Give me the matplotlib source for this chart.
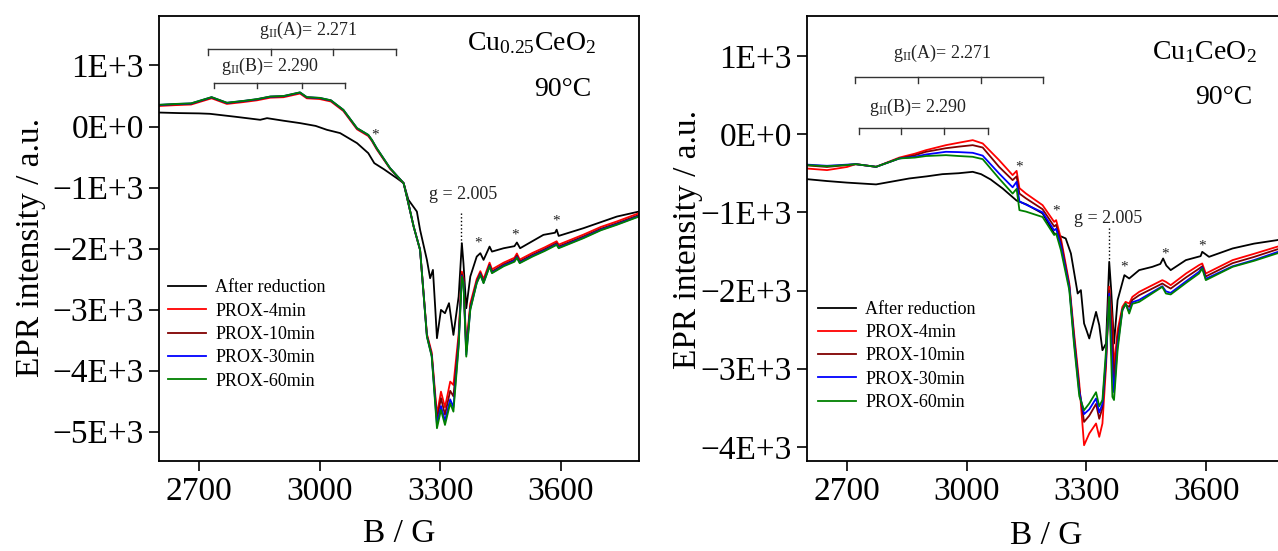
import matplotlib
matplotlib.use("Agg")
import matplotlib.pyplot as plt
import matplotlib.transforms as mtransforms

plt.rcParams['font.family'] = ['Liberation Serif', 'DejaVu Serif']
plt.rcParams['mathtext.fontset'] = 'custom'
plt.rcParams['mathtext.rm'] = 'Liberation Serif'
plt.rcParams['mathtext.default'] = 'regular'

outplot = "out.png"

names = ["After reduction", "PROX-4min", "PROX-10min", "PROX-30min", "PROX-60min"]
colors = ["black", "#ff0000", "#800000", "#0000ff", "#008000"]

# ---------- Cu0.25CeO2 (left) ----------
L_black_b = [2600, 2650, 2700, 2727, 2790, 2852, 2869, 2910, 2951, 2990, 3018, 3051, 3093,
             3121, 3136, 3160, 3192, 3209, 3221, 3242, 3250, 3267, 3275, 3282, 3288, 3292,
             3302, 3312, 3322, 3333, 3346, 3354, 3358, 3365, 3375, 3391, 3400, 3408, 3423,
             3429, 3458, 3485, 3491, 3499, 3557, 3586, 3590, 3595, 3657, 3740, 3795]
L_black = [229, 220, 215, 208, 160, 110, 137, 95, 56, 10, -54, -108, -272,
           -436, -600, -700, -846, -928, -1201, -1393, -1693, -2185, -2485, -2349, -3004, -3468,
           -3004, -3059, -2894, -3414, -2786, -1911, -2239, -2977, -2458, -2131, -2075, -2185, -1967,
           -2049, -1994, -1960, -1900, -1994, -1775, -1740, -1690, -1792, -1665, -1475, -1393]

L_b = [2600, 2640, 2680, 2731, 2769, 2810, 2844, 2877, 2910, 2951, 2968, 3000, 3028, 3059,
       3093, 3121, 3130, 3142, 3175, 3209, 3217, 3234, 3250, 3267, 3279, 3292, 3302, 3312,
       3325, 3333, 3346, 3354, 3358, 3365, 3375, 3391, 3400, 3408, 3423, 3429, 3458, 3485,
       3491, 3498, 3530, 3560, 3590, 3595, 3657, 3700, 3740, 3795]
L_4min = [336, 350, 360, 462, 370, 400, 429, 472, 480, 540, 462, 450, 410, 254,
          -46, -156, -238, -374, -690, -928, -1147, -1639, -2021, -3400, -3700, -4720, -4343, -4600,
          -4179, -4234, -3400, -2376, -2480, -3600, -2900, -2500, -2370, -2500, -2230, -2340, -2230, -2150,
          -2080, -2180, -2070, -1980, -1880, -1935, -1770, -1645, -1555, -1420]
L_10min = [350, 362, 372, 475, 384, 414, 443, 486, 494, 553, 476, 464, 424, 268,
           -32, -142, -224, -360, -684, -928, -1147, -1639, -2021, -3420, -3740, -4800, -4450, -4720,
           -4330, -4420, -3500, -2420, -2520, -3680, -2950, -2540, -2400, -2540, -2265, -2375, -2260, -2180,
           -2115, -2210, -2100, -2010, -1910, -1965, -1800, -1675, -1585, -1450]
L_30min = [354, 368, 378, 480, 388, 418, 447, 490, 498, 558, 480, 468, 428, 272,
           -28, -138, -220, -356, -680, -928, -1147, -1639, -2021, -3435, -3760, -4880, -4580, -4820,
           -4470, -4600, -3560, -2445, -2550, -3740, -2990, -2560, -2420, -2560, -2285, -2395, -2280, -2200,
           -2140, -2230, -2120, -2030, -1930, -1985, -1820, -1692, -1602, -1468]
L_60min = [356, 370, 380, 482, 390, 420, 449, 492, 500, 560, 482, 470, 430, 274,
           -26, -136, -218, -354, -680, -928, -1147, -1639, -2021, -3442, -3770, -4943, -4643, -4889,
           -4534, -4671, -3606, -2458, -2567, -3770, -3004, -2567, -2431, -2567, -2294, -2403, -2290, -2215,
           -2150, -2239, -2130, -2040, -1939, -1994, -1829, -1700, -1610, -1475]

# ---------- Cu1CeO2 (right) ----------
R_black_b = [2600, 2650, 2700, 2773, 2820, 2856, 2900, 2939, 2980, 3015, 3036, 3060, 3090,
             3125, 3150, 3190, 3219, 3248, 3261, 3278, 3286, 3294, 3300, 3307, 3324, 3332,
             3340, 3349, 3357, 3362, 3369, 3378, 3395, 3407, 3432, 3465, 3485, 3492, 3500,
             3511, 3549, 3586, 3590, 3607, 3666, 3720, 3777, 3800]
R_black = [-576, -600, -620, -643, -600, -567, -540, -512, -500, -482, -512, -580, -695,
           -850, -900, -1014, -1270, -1334, -1526, -2038, -1995, -2421, -2507, -2613, -2273, -2443,
           -2763, -2677, -1633, -2000, -2677, -2123, -1803, -1846, -1739, -1697, -1660, -1590, -1680,
           -1739, -1611, -1560, -1505, -1569, -1462, -1400, -1356, -1330]

R_b = [2600, 2650, 2700, 2722, 2773, 2831, 2870, 2898, 2948, 2980, 3015, 3040, 3081, 3115,
       3125, 3132, 3148, 3190, 3219, 3224, 3236, 3257, 3269, 3282, 3294, 3307, 3324, 3332,
       3340, 3349, 3357, 3365, 3369, 3378, 3390, 3398, 3407, 3415, 3432, 3490, 3499, 3511,
       3550, 3582, 3590, 3599, 3666, 3720, 3777, 3800]
R_4min = [-440, -460, -420, -384, -418, -300, -250, -205, -141, -110, -77, -119, -332, -524,
          -470, -690, -758, -908, -1122, -1100, -1334, -1910, -2549, -3189, -3978, -3828, -3700, -3871,
          -3700, -2976, -1950, -2421, -2976, -2507, -2209, -2145, -2166, -2081, -2017, -1867, -1889, -1931,
          -1780, -1675, -1654, -1782, -1611, -1530, -1441, -1410]
R_10min = [-400, -420, -395, -384, -418, -311, -270, -226, -180, -160, -141, -171, -418, -588,
           -540, -760, -820, -960, -1180, -1160, -1380, -1940, -2600, -3250, -3680, -3600, -3450, -3640,
           -3500, -2900, -2000, -2600, -3150, -2600, -2240, -2180, -2210, -2120, -2060, -1910, -1940, -1975,
           -1830, -1720, -1690, -1820, -1650, -1570, -1475, -1445]
R_30min = [-390, -405, -390, -384, -418, -311, -290, -260, -226, -230, -239, -275, -503, -680,
           -610, -860, -900, -1000, -1230, -1210, -1430, -1960, -2650, -3300, -3580, -3520, -3380, -3560,
           -3450, -2850, -2040, -3000, -3300, -2700, -2250, -2170, -2270, -2150, -2120, -1945, -2010, -2030,
           -1880, -1760, -1705, -1850, -1690, -1610, -1510, -1480]
R_60min = [-396, -410, -395, -384, -418, -311, -300, -280, -269, -280, -290, -320, -567, -760,
           -700, -972, -990, -1060, -1290, -1270, -1484, -1995, -2700, -3350, -3530, -3444, -3300, -3480,
           -3400, -2763, -2080, -3360, -3400, -2763, -2251, -2166, -2294, -2170, -2145, -1953, -2038, -2050,
           -1900, -1782, -1718, -1867, -1697, -1620, -1526, -1495]

L_yticks = [1000, 0, -1000, -2000, -3000, -4000, -5000]
L_ylabels = ["1E+3", "0E+0", "\u22121E+3", "\u22122E+3", "\u22123E+3", "\u22124E+3", "\u22125E+3"]
R_yticks = [1000, 0, -1000, -2000, -3000, -4000]
R_ylabels = ["1E+3", "0E+0", "\u22121E+3", "\u22122E+3", "\u22123E+3", "\u22124E+3"]
xticks = [2700, 3000, 3300, 3600]

# hyperfine bracket positions (G)
L_hfA = [2722, 2878, 3033, 3189]
L_hfB = [2736, 2845, 2955, 3064]
R_hfA = [2721, 2879, 3035, 3190]
R_hfB = [2729, 2836, 2944, 3053]

# asterisk positions
L_stars = [(3138, -136), (3394, -1907), (3487, -1775), (3589, -1546)]
R_stars = [(3130, -418), (3223, -981), (3394, -1697), (3496, -1539), (3590, -1429)]


def style_axes(ax, yticks, ylabels, ylim, xlim):
    ax.set_xlim(xlim)
    ax.set_ylim(ylim)
    ax.set_xticks(xticks)
    ax.set_yticks(yticks)
    ax.set_yticklabels(ylabels)
    ax.tick_params(direction='out', length=7, width=1.2, labelsize=24, pad=4)
    for s in ax.spines.values():
        s.set_linewidth(1.3)
    ax.set_xlabel("B / G", fontsize=24)
    ax.set_ylabel("EPR intensity / a.u.", fontsize=24)
    ax.xaxis.label.set_va('center')
    ax.yaxis.label.set_va('center')


def bracket(ax, pos, yline, ytick, text, tx, ty):
    tr = mtransforms.blended_transform_factory(ax.transData, ax.transAxes)
    ax.plot([pos[0], pos[-1]], [yline, yline], color='#333333', lw=1.0, transform=tr)
    for p in pos:
        ax.plot([p, p], [yline, ytick], color='#333333', lw=1.0, transform=tr)
    ax.text(tx, ty, text, transform=tr, fontsize=13, ha='center', va='center', color='#222222')


fig = plt.figure(figsize=(12.78, 5.51), dpi=100)
ax1 = fig.add_axes([0.1244, 0.1633, 0.3756, 0.8076])
ax2 = fig.add_axes([0.6315, 0.1633, 0.3748, 0.8076])

ax1.plot(L_black_b, L_black, color=colors[0], lw=1.3, label=names[0])
for ys, c, n in zip([L_4min, L_10min, L_30min, L_60min], colors[1:], names[1:]):
    ax1.plot(L_b, ys, color=c, lw=1.3, label=n)

ax2.plot(R_black_b, R_black, color=colors[0], lw=1.3, label=names[0])
for ys, c, n in zip([R_4min, R_10min, R_30min, R_60min], colors[1:], names[1:]):
    ax2.plot(R_b, ys, color=c, lw=1.3, label=n)

style_axes(ax1, L_yticks, L_ylabels, (-5480, 1810), (2600, 3795))
style_axes(ax2, R_yticks, R_ylabels, (-4180, 1510), (2600, 3800))
ax1.xaxis.set_label_coords(0.5, -0.163)
ax2.xaxis.set_label_coords(0.5, -0.168)
ax1.yaxis.set_label_coords(-0.268, 0.481)
ax2.yaxis.set_label_coords(-0.25, 0.499)

for ax, x, y in [(ax1, 0.019, 0.408), (ax2, 0.023, 0.36)]:
    ax.legend(loc='upper left', bbox_to_anchor=(x, y), frameon=False, fontsize=13,
              handlelength=2.1, handletextpad=0.5, labelspacing=0.35, borderpad=0,
              borderaxespad=0)

bracket(ax1, L_hfA, 0.925, 0.912, r"g$_{II}$(A)= 2.271", 2971, 0.9685)
bracket(ax1, L_hfB, 0.850, 0.8375, r"g$_{II}$(B)= 2.290", 2877, 0.886)
bracket(ax2, R_hfA, 0.8636, 0.850, r"g$_{II}$(A)= 2.271", 2939, 0.916)
bracket(ax2, R_hfB, 0.7476, 0.735, r"g$_{II}$(B)= 2.290", 2877, 0.795)

ax1.text(0.642, 0.939, r"Cu$_{0.25}$CeO$_2$", transform=ax1.transAxes, fontsize=20, va='center')
ax1.text(0.782, 0.834, "90\u00b0C", transform=ax1.transAxes, fontsize=20, va='center')
ax2.text(0.72, 0.919, r"Cu$_1$CeO$_2$", transform=ax2.transAxes, fontsize=20, va='center')
ax2.text(0.81, 0.816, "90\u00b0C", transform=ax2.transAxes, fontsize=20, va='center')

ax1.text(3357, -1119, "g = 2.005", fontsize=13, ha='center', va='center', color='#222222')
ax1.plot([3352, 3352], [-1414, -1906], color='black', lw=1.0, ls=':')
ax2.text(3355, -1078, "g = 2.005", fontsize=13, ha='center', va='center', color='#222222')
ax2.plot([3356, 3356], [-1202, -1612], color='black', lw=1.0, ls=':')

for ax, stars in [(ax1, L_stars), (ax2, R_stars)]:
    for bx, by in stars:
        ax.text(bx, by, "*", fontsize=11, ha='center', va='center', color='#222222')

plt.savefig(outplot, dpi=100)
